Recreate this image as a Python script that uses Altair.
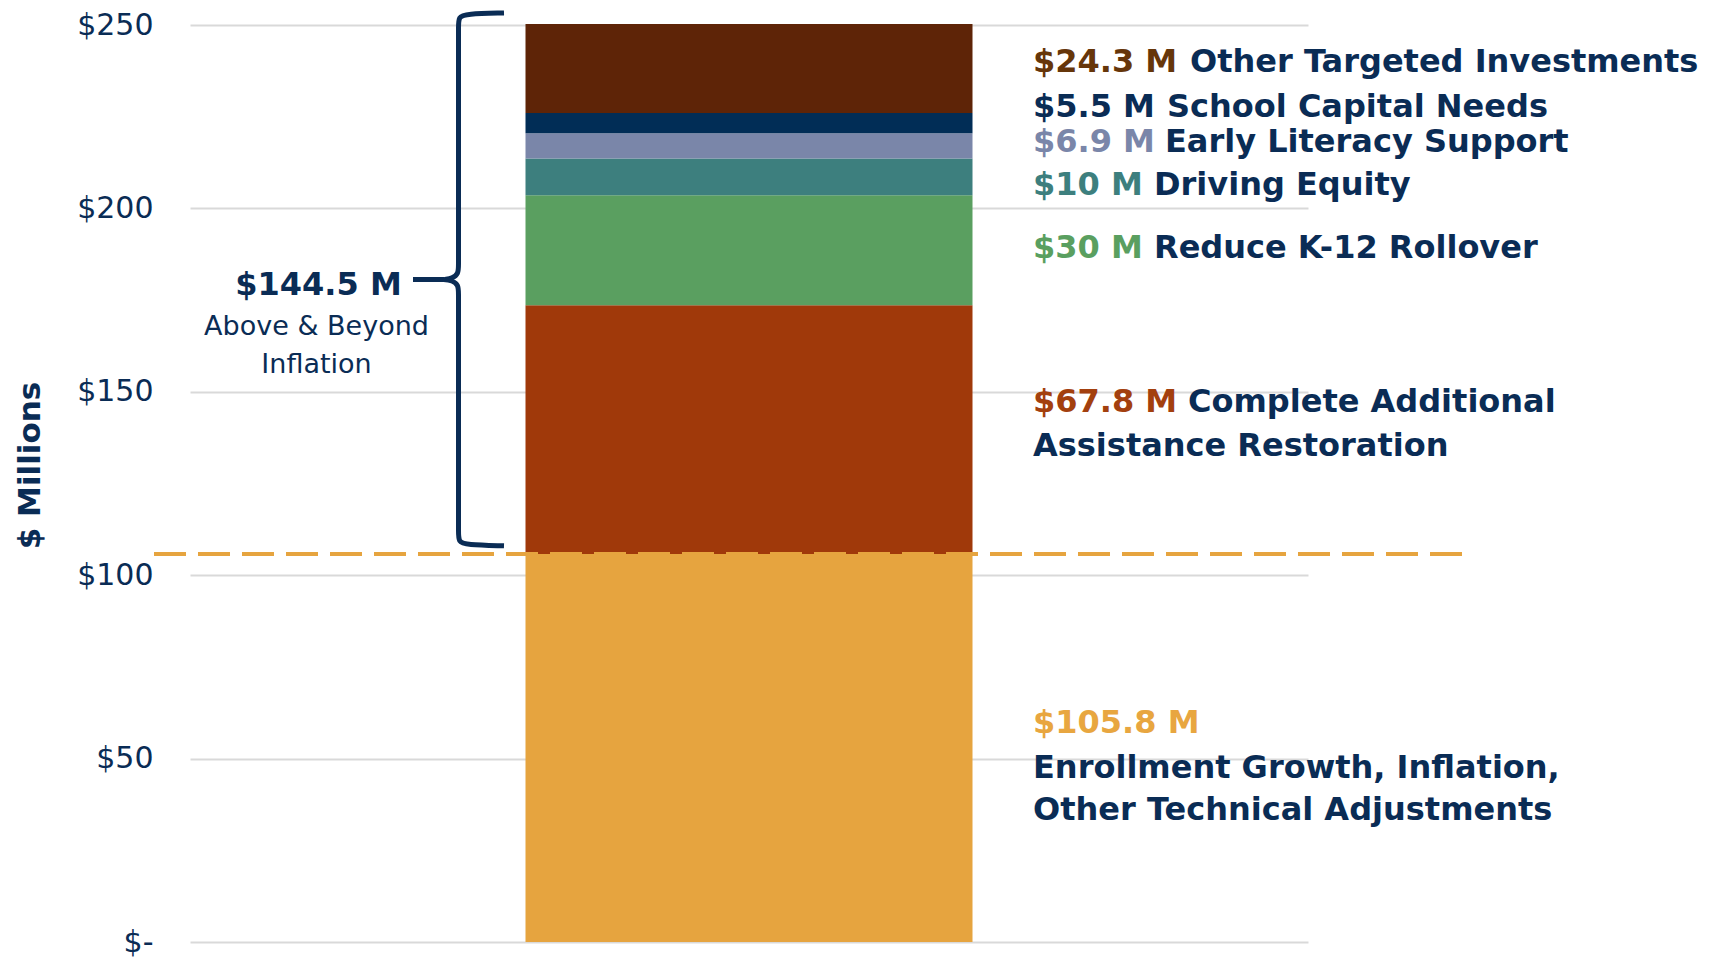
import altair as alt
import pandas as pd
import numpy as np

# ---------------- data ----------------
categories = [
    "Enrollment Growth, Inflation, Other Technical Adjustments",
    "Complete Additional Assistance Restoration",
    "Reduce K-12 Rollover",
    "Driving Equity",
    "Early Literacy Support",
    "School Capital Needs",
    "Other Targeted Investments",
]
values = [105.8, 67.8, 30, 10, 6.9, 5.5, 24.3]
bar_colors = ["#E6A43F", "#A0390A", "#5A9F60", "#3D7F7E", "#7A86A9", "#012D56", "#5E2407"]
amount_colors = ["#E8A640", "#A3400E", "#5A9F60", "#3D7F7E", "#7A86A9", "#0A2C55", "#66360A"]
# description text, broken into the lines used in the picture
desc_lines = [
    ["", "Enrollment Growth, Inflation,", "Other Technical Adjustments"],
    ["Complete Additional", "Assistance Restoration"],
    ["Reduce K-12 Rollover"],
    ["Driving Equity"],
    ["Early Literacy Support"],
    ["School Capital Needs"],
    ["Other Targeted Investments"],
]
y_ticks = [0, 50, 100, 150, 200, 250]
y_tick_labels = ["$-", "$50", "$100", "$150", "$200", "$250"]
axis_title = "$ Millions"
annot_lines = ["Above & Beyond", "Inflation"]

# ---------------- layout (pixels) ----------------
NAVY = "#0A2C55"
FONT = "DejaVu Sans"
W, H = 1118, 917
PLOT_LEFT, PLOT_TOP = 190, 25
label_baselines = [[732.7, 778.3, 820], [411.5, 455.5], [258], [195], [151.5], [117], [72.3]]
LABEL_X = 1033 - PLOT_LEFT
# where the description starts on the amount's line (page px)
desc_first_x = [1033, 1188, 1154, 1154, 1165, 1167, 1190]
LABEL_FS = 32

# ---------------- tables ----------------
ends = np.cumsum(values)
starts = ends - np.array(values)
bar_df = pd.DataFrame({"group": "budget", "cat": categories, "start": starts, "end": ends})

amounts = [f"${v:g} M" for v in values]
desc_rows, amt_rows = [], []
for i, lines in enumerate(desc_lines):
    for j, line in enumerate(lines):
        ypx = label_baselines[i][j] - PLOT_TOP
        if j == 0:
            amt_rows.append({"text": amounts[i], "ypx": ypx, "xpx": LABEL_X, "col": amount_colors[i]})
            if line:
                desc_rows.append({"text": line, "ypx": ypx, "xpx": desc_first_x[i] - PLOT_LEFT})
        else:
            desc_rows.append({"text": line, "ypx": ypx, "xpx": LABEL_X})
desc_df = pd.DataFrame(desc_rows)
amt_df = pd.DataFrame(amt_rows)

base = values[0]
total = float(ends[-1])
above = sum(values[1:])

yscale = alt.Scale(domain=[0, 250], nice=False, zero=True)
label_expr = " : ".join(
    [f"datum.value == {v} ? '{t}'" for v, t in zip(y_ticks, y_tick_labels)]
) + " : ''"

bars = alt.Chart(bar_df).mark_bar(size=447).encode(
    x=alt.X("group:N", axis=None),
    y=alt.Y(
        "start:Q",
        scale=yscale,
        axis=alt.Axis(
            values=y_ticks,
            labelExpr=label_expr,
            title=axis_title,
            grid=True,
            gridColor="#D9D9D9",
            gridWidth=2,
            domain=False,
            ticks=False,
            tickSize=0,
            labelFont=FONT,
            labelFontSize=30,
            labelColor=NAVY,
            labelPadding=37,
            titleFont=FONT,
            titleFontWeight="bold",
            titleFontSize=31,
            titleColor=NAVY,
            titleAngle=270,
            titleAlign="center",
            titleBaseline="middle",
            titleX=-160,
            titleY=440,
        ),
    ),
    y2="end:Q",
    color=alt.Color("cat:N", scale=alt.Scale(domain=categories, range=bar_colors), legend=None),
)

rule = alt.Chart(pd.DataFrame({"v": [base]})).mark_rule(
    strokeDash=[32, 12], strokeWidth=4, color="#E6A43F"
).encode(y=alt.Y("v:Q", scale=yscale), x=alt.value(-36), x2=alt.value(1273))

# curly brace spanning the "above & beyond" part of the stack
top_y = total + 3.0
bot_y = base + 2.2
mid_y = (top_y + bot_y) / 2
brace_pts = [
    ("up", 314, top_y), ("up", 276, top_y - 0.3), ("up", 268.5, top_y - 1.0),
    ("up", 268.5, top_y - 4), ("up", 268.5, top_y - 8),
    ("up", 268.5, mid_y + 8), ("up", 268.5, mid_y + 4), ("up", 268.5, mid_y + 1.5),
    ("up", 262, mid_y + 0.3), ("up", 255, mid_y),
    ("lo", 223, mid_y), ("lo", 240, mid_y), ("lo", 255, mid_y), ("lo", 262, mid_y - 0.3),
    ("lo", 268.5, mid_y - 1.5), ("lo", 268.5, mid_y - 4), ("lo", 268.5, mid_y - 8),
    ("lo", 268.5, bot_y + 8), ("lo", 268.5, bot_y + 4), ("lo", 268.5, bot_y + 1.0),
    ("lo", 276, bot_y + 0.3), ("lo", 314, bot_y),
]
brace_df = pd.DataFrame(
    [{"part": p, "bx": x, "by": y, "ord": k} for k, (p, x, y) in enumerate(brace_pts)]
)
brace = alt.Chart(brace_df).mark_line(
    interpolate="basis", strokeWidth=5, color=NAVY, strokeCap="butt"
).encode(
    x=alt.X("bx:Q", scale=None),
    y=alt.Y("by:Q", scale=yscale),
    order="ord:Q",
    detail="part:N",
)

desc_text = alt.Chart(desc_df).mark_text(
    align="left", baseline="alphabetic", font=FONT, fontWeight="bold", fontSize=LABEL_FS, color=NAVY
).encode(
    x=alt.X("xpx:Q", scale=None),
    y=alt.Y("ypx:Q", scale=None),
    text="text:N",
)
amt_text = alt.Chart(amt_df).mark_text(
    align="left", baseline="alphabetic", font=FONT, fontWeight="bold", fontSize=LABEL_FS
).encode(
    x=alt.X("xpx:Q", scale=None),
    y=alt.Y("ypx:Q", scale=None),
    text="text:N",
    color=alt.Color("col:N", scale=None),
)

annot_df = pd.DataFrame({
    "text": [f"${above:.1f} M"] + annot_lines,
    "ypx": [270, 310, 348],
})
annot_big = alt.Chart(annot_df.iloc[:1]).mark_text(
    align="center", baseline="alphabetic", font=FONT, fontWeight="bold", fontSize=32, color=NAVY
).encode(x=alt.value(128.5), y=alt.Y("ypx:Q", scale=None), text="text:N")
annot_small = alt.Chart(annot_df.iloc[1:]).mark_text(
    align="center", baseline="alphabetic", font=FONT, fontWeight="normal", fontSize=27, color=NAVY
).encode(x=alt.value(126.5), y=alt.Y("ypx:Q", scale=None), text="text:N")

chart = alt.layer(
    bars, rule, brace, desc_text, amt_text, annot_big, annot_small
).resolve_scale(x="independent").properties(
    width=W,
    height=H,
    autosize=alt.AutoSizeParams(type="none"),
    padding={"left": PLOT_LEFT - 8, "top": PLOT_TOP - 8, "right": 405, "bottom": 15},
).configure_view(stroke=None)

chart.save("out.html", embed_options={"renderer": "svg", "actions": False})
